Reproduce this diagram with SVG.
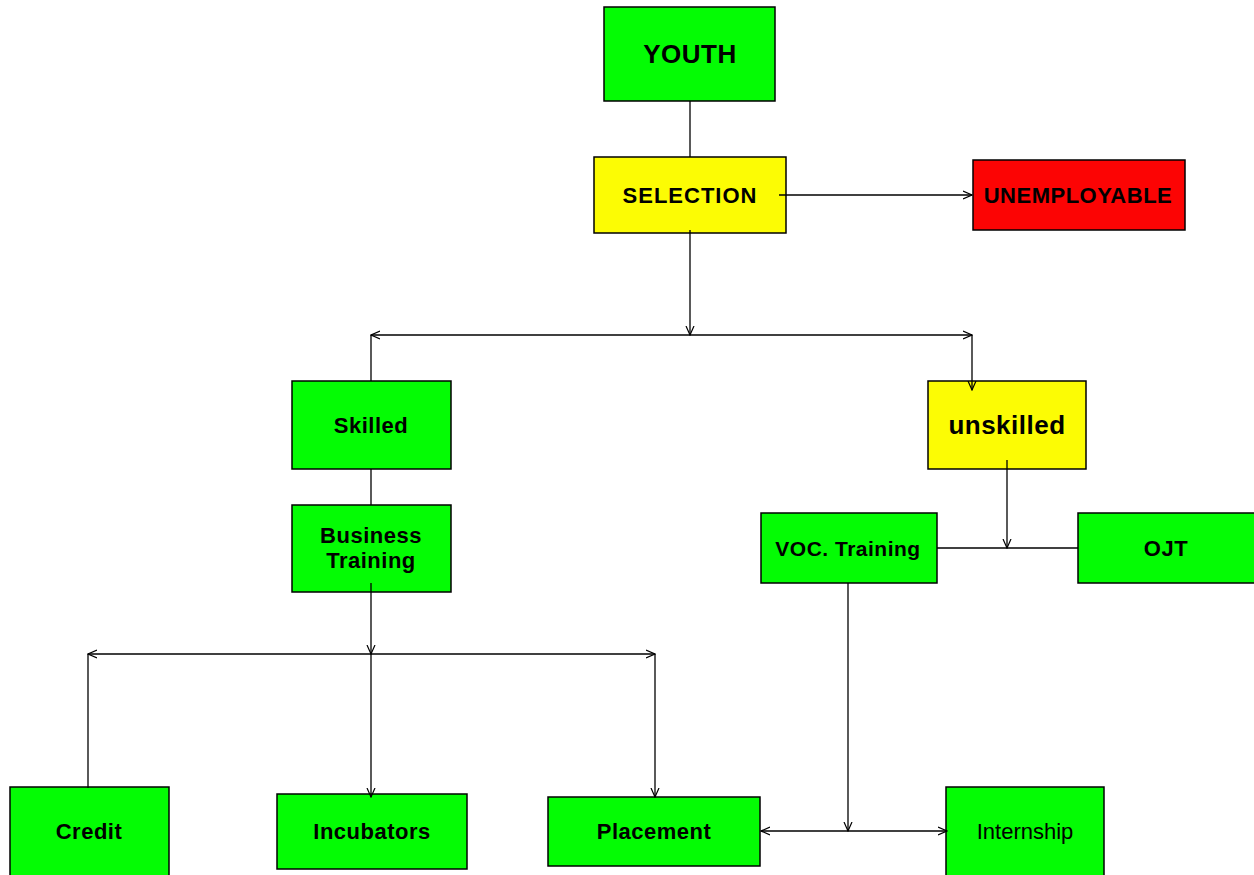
<svg xmlns="http://www.w3.org/2000/svg" width="1254" height="875" viewBox="0 0 1254 875">
<style>
.box{stroke:#000;stroke-width:1.5}
.g{fill:#04fc04}
.y{fill:#fcfc04}
.r{fill:#fc0404}
text{font-family:"Liberation Sans",Arial,sans-serif;font-weight:bold;font-size:22px;fill:#000;text-anchor:middle;letter-spacing:0.5px}
.ln{stroke:#000;stroke-width:1.3;fill:none}
</style>
<defs>
<marker id="a" viewBox="0 0 10 10" refX="9" refY="5" markerWidth="10" markerHeight="10" markerUnits="userSpaceOnUse" orient="auto-start-reverse">
<path d="M0,1 L9,5 L0,9" fill="none" stroke="#000" stroke-width="1.2"/>
</marker>
</defs>
<g id="youth"><rect class="box g" x="604" y="7" width="171" height="94"/><text x="690" y="63" style="font-size:26px">YOUTH</text></g>
<g id="selection"><rect class="box y" x="594" y="157" width="192" height="76"/><text x="690" y="203" style="letter-spacing:1px">SELECTION</text></g>
<g id="unemployable"><rect class="box r" x="973" y="160" width="212" height="70"/><text x="1078" y="203">UNEMPLOYABLE</text></g>
<g id="skilled"><rect class="box g" x="292" y="381" width="159" height="88"/><text x="371" y="433">Skilled</text></g>
<g id="unskilled"><rect class="box y" x="928" y="381" width="158" height="88"/><text x="1007" y="434" style="font-size:26px">unskilled</text></g>
<g id="business"><rect class="box g" x="292" y="505" width="159" height="87"/><text x="371" y="543">Business</text><text x="371" y="568">Training</text></g>
<g id="voc"><rect class="box g" x="761" y="513" width="176" height="70"/><text x="848" y="556" style="font-size:21px">VOC. Training</text></g>
<g id="ojt"><rect class="box g" x="1078" y="513" width="180" height="70"/><text x="1166" y="556">OJT</text></g>
<g id="credit"><rect class="box g" x="10" y="787" width="159" height="95"/><text x="89" y="839">Credit</text></g>
<g id="incubators"><rect class="box g" x="277" y="794" width="190" height="75"/><text x="372" y="839">Incubators</text></g>
<g id="placement"><rect class="box g" x="548" y="797" width="212" height="69"/><text x="654" y="839">Placement</text></g>
<g id="internship"><rect class="box g" x="946" y="787" width="158" height="95"/><text x="1025" y="839" style="font-weight:normal;letter-spacing:0">Internship</text></g>
<g id="connectors">
<line class="ln" x1="690" y1="101" x2="690" y2="157"/>
<line class="ln" x1="779" y1="195" x2="972" y2="195" marker-end="url(#a)"/>
<line class="ln" x1="690" y1="230" x2="690" y2="335" marker-end="url(#a)"/>
<line class="ln" x1="371" y1="335" x2="972" y2="335" marker-start="url(#a)" marker-end="url(#a)"/>
<line class="ln" x1="371" y1="335" x2="371" y2="381"/>
<line class="ln" x1="972" y1="335" x2="972" y2="390" marker-end="url(#a)"/>
<line class="ln" x1="371" y1="469" x2="371" y2="505"/>
<line class="ln" x1="371" y1="583" x2="371" y2="654" marker-end="url(#a)"/>
<line class="ln" x1="88" y1="654" x2="655" y2="654" marker-start="url(#a)" marker-end="url(#a)"/>
<line class="ln" x1="88" y1="654" x2="88" y2="788"/>
<line class="ln" x1="371" y1="654" x2="371" y2="797" marker-end="url(#a)"/>
<line class="ln" x1="655" y1="654" x2="655" y2="797" marker-end="url(#a)"/>
<line class="ln" x1="1007" y1="460" x2="1007" y2="548" marker-end="url(#a)"/>
<line class="ln" x1="937" y1="548" x2="1078" y2="548"/>
<line class="ln" x1="848" y1="583" x2="848" y2="831" marker-end="url(#a)"/>
<line class="ln" x1="761" y1="831" x2="947" y2="831" marker-start="url(#a)" marker-end="url(#a)"/>
</g>
</svg>
